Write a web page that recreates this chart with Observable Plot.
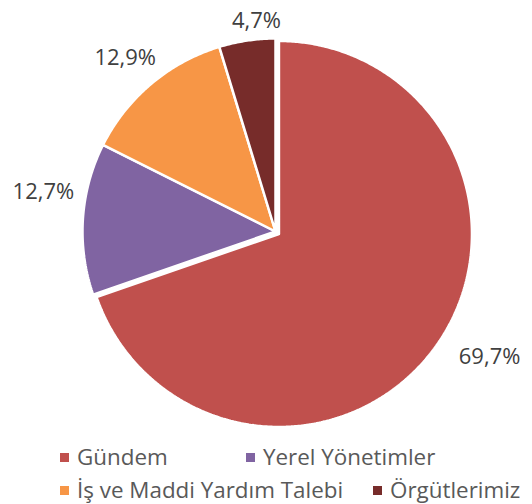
<!DOCTYPE html>
<html><head><meta charset="utf-8">
<script src="https://cdn.jsdelivr.net/npm/d3@7"></script>
<script src="https://cdn.jsdelivr.net/npm/@observablehq/plot@0.6"></script>
<style>
body{margin:0;background:#fff;font-family:"Open Sans",sans-serif}
#wrap{position:relative;width:532px;height:504px;overflow:hidden}
#wrap svg{position:absolute;left:0;top:0}
.li{position:absolute;display:flex;align-items:center;font-size:22.4px;color:#595959;white-space:nowrap;line-height:22px;height:22px}
.sw{width:9px;height:9px;margin-right:8px;flex:none}
</style></head><body><div id="wrap"></div>
<script>
const categories = ["Gündem", "Yerel Yönetimler", "İş ve Maddi Yardım Talebi", "Örgütlerimiz"];
const values = [69.7, 12.7, 12.9, 4.7];
const labels = ["69,7%", "12,7%", "12,9%", "4,7%"];
const colors = ["#C0504D", "#8064A2", "#F79646", "#772C2A"];

// layout
const cx = 275, cy = 231, R = 193;
const explode = [0.022, 0, 0, 0];
const labelNudge = [[22, -11], [-1, -24], [-1, 4], [15, 19]]; // px
const legendPos = [[60, 446], [246, 446], [60, 479], [373, 479]];

const arcs = d3.pie().sort(null).value(d => d)(values);
const pts = [];
const lbl = [];
arcs.forEach((a, i) => {
  const mid = (a.startAngle + a.endAngle) / 2;
  const ox = explode[i] * Math.sin(mid), oy = explode[i] * Math.cos(mid);
  pts.push({cat: categories[i], x: ox, y: oy});
  const n = Math.max(2, Math.ceil((a.endAngle - a.startAngle) / (Math.PI / 360)));
  for (let k = 0; k <= n; k++) {
    const t = a.startAngle + (a.endAngle - a.startAngle) * k / n;
    pts.push({cat: categories[i], x: ox + Math.sin(t), y: oy + Math.cos(t)});
  }
  pts.push({cat: categories[i], x: ox, y: oy});
  lbl.push({
    text: labels[i],
    x: ox + 1.2 * Math.sin(mid) + labelNudge[i][0] / R,
    y: oy + 1.2 * Math.cos(mid) - labelNudge[i][1] / R
  });
});

const chart = Plot.plot({
  width: 532,
  height: 440,
  x: {domain: [-1, 1], range: [cx - R, cx + R], axis: null},
  y: {domain: [-1, 1], range: [cy + R, cy - R], axis: null},
  color: {domain: categories, range: colors},
  style: {fontFamily: "Open Sans", background: "white", overflow: "visible"},
  marks: [
    Plot.line(pts, {x: "x", y: "y", z: "cat", fill: "cat", stroke: "white", strokeWidth: 2.5, strokeLinejoin: "miter", curve: "linear"}),
    Plot.text(lbl, {x: "x", y: "y", text: "text", fill: "#404040", fontSize: 22, fontFamily: "Open Sans"})
  ]
});
const wrap = document.getElementById("wrap");
wrap.appendChild(chart);

categories.forEach((c, i) => {
  const d = document.createElement("div");
  d.className = "li";
  d.style.left = legendPos[i][0] + "px";
  d.style.top = legendPos[i][1] + "px";
  const s = document.createElement("span");
  s.className = "sw";
  s.style.background = colors[i];
  d.appendChild(s);
  d.appendChild(document.createTextNode(c));
  wrap.appendChild(d);
});
</script></body></html>
